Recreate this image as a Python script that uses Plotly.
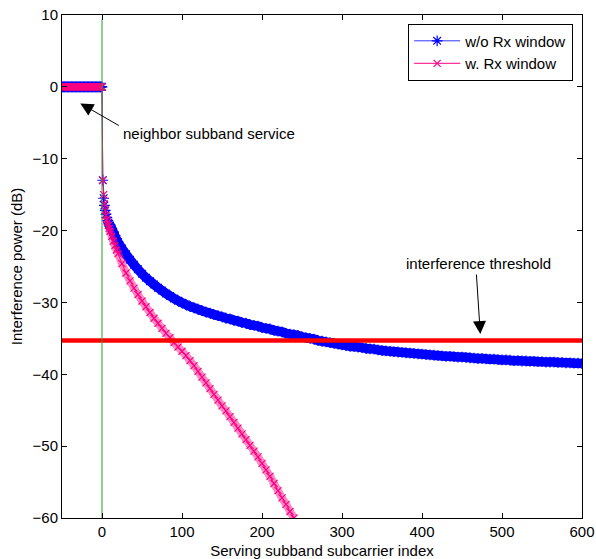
import plotly.graph_objects as go

# Neighbor subband (indices <= 0) sits at 0 dB for both receivers
neighbor_idx = list(range(-50, 1))
neighbor_db = [0.0] * len(neighbor_idx)

# Serving subband: without Rx window
wo_idx = [1, 2, 3, 4, 5, 6, 7, 8, 9, 10, 12, 14, 16, 18, 20] + list(range(25, 601, 5))
wo_db = [
    -13.0, -15.5, -16.5, -17.2, -17.7, -18.2, -18.6, -18.9, -19.1, -19.3,
    -19.7, -20.2, -20.7, -21.2, -21.6,
    -22.5, -23.3, -24.05, -24.75, -25.4, -26.0, -26.55, -27.05, -27.5, -27.95,
    -28.35, -28.75, -29.1, -29.45, -29.75, -30.05, -30.3, -30.55, -30.75, -30.95,
    -31.15, -31.35, -31.5, -31.7, -31.85, -32.0, -32.2, -32.3, -32.5, -32.6,
    -32.8, -32.9, -33.1, -33.2, -33.3, -33.5, -33.6, -33.7, -33.9, -34.0,
    -34.1, -34.3, -34.4, -34.5, -34.6, -34.8, -34.9, -35.0, -35.1, -35.3,
    -35.4, -35.5, -35.6, -35.7, -35.8, -35.9, -36.0, -36.1, -36.15, -36.2,
    -36.3, -36.4, -36.45, -36.5, -36.6, -36.7, -36.75, -36.8, -36.85, -36.9,
    -36.95, -37.0, -37.05, -37.1, -37.15, -37.2, -37.25, -37.3, -37.35, -37.4,
    -37.45, -37.5, -37.5, -37.55, -37.6, -37.6, -37.65, -37.7, -37.75, -37.8,
    -37.8, -37.85, -37.9, -37.9, -37.95, -38.0, -38.0, -38.05, -38.1, -38.1,
    -38.15, -38.15, -38.2, -38.2, -38.25, -38.25, -38.3, -38.3, -38.3, -38.35,
    -38.35, -38.4, -38.4, -38.45, -38.45, -38.5,
]

# Serving subband: with Rx window
w_idx = [1, 2, 3, 4, 5, 6, 7, 8, 9, 10, 12, 14, 16, 18, 20] + list(range(25, 241, 5))
w_db = [
    -13.0, -15.0, -16.3, -17.2, -17.9, -18.5, -18.9, -19.3, -19.7, -20.1,
    -20.8, -21.5, -22.1, -22.7, -23.2,
    -24.6, -25.9, -27.0, -28.0, -28.9, -29.8, -30.6, -31.4, -32.2, -32.9,
    -33.6, -34.3, -34.9, -35.6, -36.2, -36.8, -37.4, -38.1, -38.8, -39.6,
    -40.4, -41.2, -42.0, -42.8, -43.6, -44.4, -45.1, -45.9, -46.7, -47.5,
    -48.3, -49.1, -49.9, -50.7, -51.5, -52.4, -53.3, -54.2, -55.2, -56.2,
    -57.2, -58.1, -59.1, -60.0,
]

# Subband boundary and interference threshold
boundary_idx = [0, 0]
boundary_db = [9.4, -60.0]
threshold_idx = [-50, 600]
threshold_db = [-35.3, -35.3]

x_ticks = [0, 100, 200, 300, 400, 500, 600]
y_ticks = [-60, -50, -40, -30, -20, -10, 0, 10]

BLUE = "rgb(0,0,255)"
PINK = "rgb(255,0,128)"
PINK_BAND = "rgba(255,20,140,0.5)"
FONT = "Liberation Sans, Arial, Helvetica, sans-serif"

fig = go.Figure()

# Dense marker bands (many markers per pixel run together into a solid band)
fig.add_trace(go.Scatter(
    x=wo_idx[8:], y=wo_db[8:], mode="lines", showlegend=False,
    line=dict(color=BLUE, width=9.5, shape="spline", smoothing=1.0),
    hoverinfo="skip",
))
fig.add_trace(go.Scatter(
    x=neighbor_idx + wo_idx, y=neighbor_db + wo_db,
    mode="lines+markers", name="w/o Rx window",
    line=dict(color=BLUE, width=0.8),
    marker=dict(symbol="asterisk-open", size=9, color=BLUE,
                line=dict(color=BLUE, width=1.2)),
))
fig.add_trace(go.Scatter(
    x=w_idx[8:], y=w_db[8:], mode="lines", showlegend=False,
    line=dict(color=PINK_BAND, width=8, shape="spline", smoothing=1.0),
    hoverinfo="skip",
))
fig.add_trace(go.Scatter(
    x=neighbor_idx + w_idx, y=neighbor_db + w_db,
    mode="lines+markers", name="w. Rx window",
    line=dict(color=PINK, width=1),
    marker=dict(symbol="x-thin-open", size=7, color=PINK,
                line=dict(color=PINK, width=1.2)),
))
fig.add_trace(go.Scatter(
    x=threshold_idx, y=threshold_db, mode="lines", showlegend=False,
    line=dict(color="rgb(255,0,0)", width=4.5), hoverinfo="skip",
))
fig.add_trace(go.Scatter(
    x=boundary_idx, y=boundary_db, mode="lines", showlegend=False,
    line=dict(color="rgb(40,160,40)", width=1), hoverinfo="skip",
))

axis_common = dict(
    showline=True, linecolor="black", linewidth=1, mirror="ticks",
    ticks="inside", ticklen=5, tickcolor="black", tickwidth=1,
    showgrid=False, zeroline=False, automargin=False,
    tickfont=dict(family=FONT, size=15, color="black"),
)

fig.update_xaxes(range=[-50, 600], tickvals=x_ticks,
                 title=dict(text="Serving subband subcarrier index",
                            font=dict(family=FONT, size=15, color="black")),
                 **axis_common)
fig.update_yaxes(range=[-60, 10], tickvals=y_ticks,
                 title=dict(text="Interference power (dB)",
                            font=dict(family=FONT, size=15, color="black"),
                            standoff=6),
                 **axis_common)

# Labels with arrows
fig.add_annotation(x=24, y=-6.55, xref="x", yref="y", text="neighbor subband service",
                   showarrow=False, xanchor="left", yanchor="middle",
                   font=dict(family=FONT, size=15, color="black"))
fig.add_annotation(x=-27.1, y=-2.3, ax=22.9, ay=-5.5, xref="x", yref="y",
                   axref="x", ayref="y", text="", showarrow=True,
                   arrowhead=2, arrowsize=2.6, arrowwidth=1, arrowcolor="black")
fig.add_annotation(x=470.8, y=-24.6, xref="x", yref="y", text="interference threshold",
                   showarrow=False, xanchor="center", yanchor="middle",
                   font=dict(family=FONT, size=15, color="black"))
fig.add_annotation(x=472.9, y=-34.4, ax=467.9, ay=-25.9, xref="x", yref="y",
                   axref="x", ayref="y", text="", showarrow=True,
                   arrowhead=2, arrowsize=2.6, arrowwidth=1, arrowcolor="black")

fig.update_layout(
    width=596, height=559,
    margin=dict(l=62, r=14, t=15, b=41),
    paper_bgcolor="white", plot_bgcolor="white",
    font=dict(family=FONT, size=15, color="black"),
    legend=dict(x=0.983, y=0.983, xanchor="right", yanchor="top",
                bgcolor="white", bordercolor="black", borderwidth=1,
                font=dict(family=FONT, size=15, color="black"),
                tracegroupgap=0, itemwidth=46),
)

fig.write_html("out.html")
